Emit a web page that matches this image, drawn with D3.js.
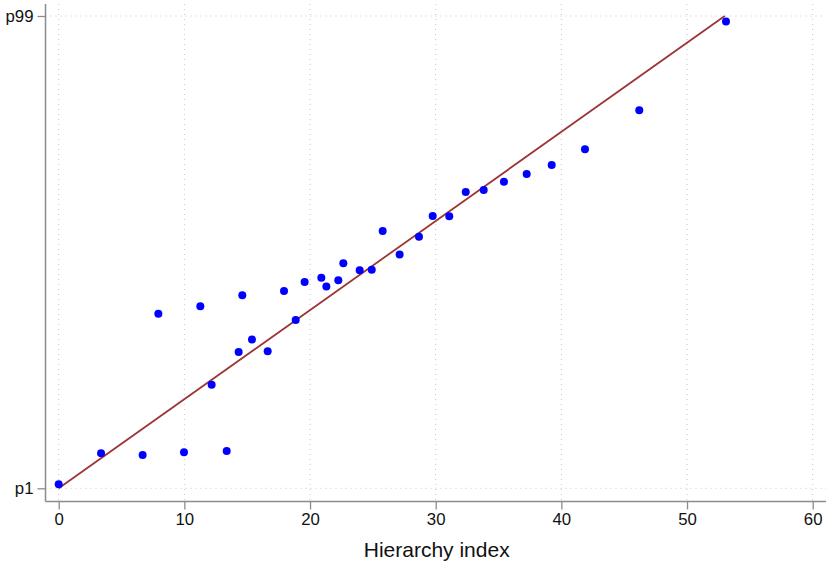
<!DOCTYPE html>
<html>
<head>
<meta charset="utf-8">
<style>
  body { margin: 0; background: #fff; }
  svg { display: block; font-family: 'Liberation Sans', Arial, Helvetica, sans-serif; }
</style>
</head>
<body>
<svg width="828" height="563"></svg>
<script src="https://d3js.org/d3.v7.min.js"></script>
<script>
// hierarchy index (x) vs percentile (y)
let hierX = [0, 3.37, 6.68, 9.97, 13.37, 7.93, 11.27, 14.61, 12.17, 14.32,
  15.38, 16.63, 17.93, 18.86, 19.57, 20.9, 21.3, 22.25, 22.65, 23.95,
  24.91, 25.78, 27.13, 28.67, 29.76, 31.08, 32.39, 33.82, 35.43, 37.24,
  39.23, 41.88, 46.2, 53.1];
let pctY = [1.83, 8.26, 7.91, 8.47, 8.74, 37.2, 38.8, 41.05, 22.5, 29.3,
  31.85, 29.45, 41.95, 35.9, 43.8, 44.7, 42.85, 44.15, 47.7, 46.25,
  46.35, 54.4, 49.5, 53.2, 57.5, 57.45, 62.5, 62.9, 64.6, 66.2,
  68.1, 71.35, 79.45, 97.85];

let fitLine = [[0, 1], [53.0, 99]];

let xTicks = [0, 10, 20, 30, 40, 50, 60];
let yTicks = [1, 99];
let yTickLabels = ["p1", "p99"];

let svg = d3.select("svg");

let x = d3.scaleLinear().domain([0, 60]).range([58.7, 812.7]);
let y = d3.scaleLinear().domain([1, 99]).range([488.3, 16]);

let plotLeft = 45.5, plotRight = 826, plotTop = 4, plotBottom = 501.5;

// gridlines
svg.append("g")
  .selectAll("line")
  .data(xTicks)
  .join("line")
  .attr("x1", d => x(d)).attr("x2", d => x(d))
  .attr("y1", plotTop).attr("y2", plotBottom)
  .style("stroke", "#c8c8c8")
  .style("stroke-width", 1)
  .style("stroke-dasharray", "1,4");

svg.append("g")
  .selectAll("line")
  .data(yTicks)
  .join("line")
  .attr("x1", plotLeft).attr("x2", plotRight)
  .attr("y1", d => y(d)).attr("y2", d => y(d))
  .style("stroke", "#c8c8c8")
  .style("stroke-width", 1)
  .style("stroke-dasharray", "1,4");

// axes
let xAxis = d3.axisBottom(x).tickValues(xTicks).tickSize(8).tickPadding(4);
let gx = svg.append("g")
  .attr("transform", "translate(0," + plotBottom + ")")
  .call(xAxis);
gx.select(".domain").attr("d", "M" + plotLeft + ",0H" + plotRight);

let yAxis = d3.axisLeft(y).tickValues(yTicks).tickSize(8).tickPadding(4)
  .tickFormat((d, i) => yTickLabels[i]);
let gy = svg.append("g")
  .attr("transform", "translate(" + plotLeft + ",0)")
  .call(yAxis);
gy.select(".domain").attr("d", "M0," + plotTop + "V" + plotBottom);

svg.selectAll(".domain").style("stroke", "#8c8c8c").style("stroke-width", 1.5);
svg.selectAll(".tick line").style("stroke", "#8c8c8c").style("stroke-width", 1.3);
svg.selectAll(".tick text").style("font-size", "16.8px").style("fill", "#111")
  .style("font-family", "'Liberation Sans', Arial, sans-serif");

// axis title
svg.append("text")
  .attr("x", x(30) + 1)
  .attr("y", 556.5)
  .attr("text-anchor", "middle")
  .style("font-size", "21px")
  .style("fill", "#111")
  .text("Hierarchy index");

// fitted line
let line = d3.line().x(d => x(d[0])).y(d => y(d[1]));
svg.append("path")
  .datum(fitLine)
  .attr("d", line)
  .style("fill", "none")
  .style("stroke", "#9c3535")
  .style("stroke-width", 1.8);

// points
svg.append("g")
  .selectAll("circle")
  .data(hierX.map((d, i) => [d, pctY[i]]))
  .join("circle")
  .attr("cx", d => x(d[0]))
  .attr("cy", d => y(d[1]))
  .attr("r", 4)
  .style("fill", "#0000ff");
</script>
</body>
</html>
